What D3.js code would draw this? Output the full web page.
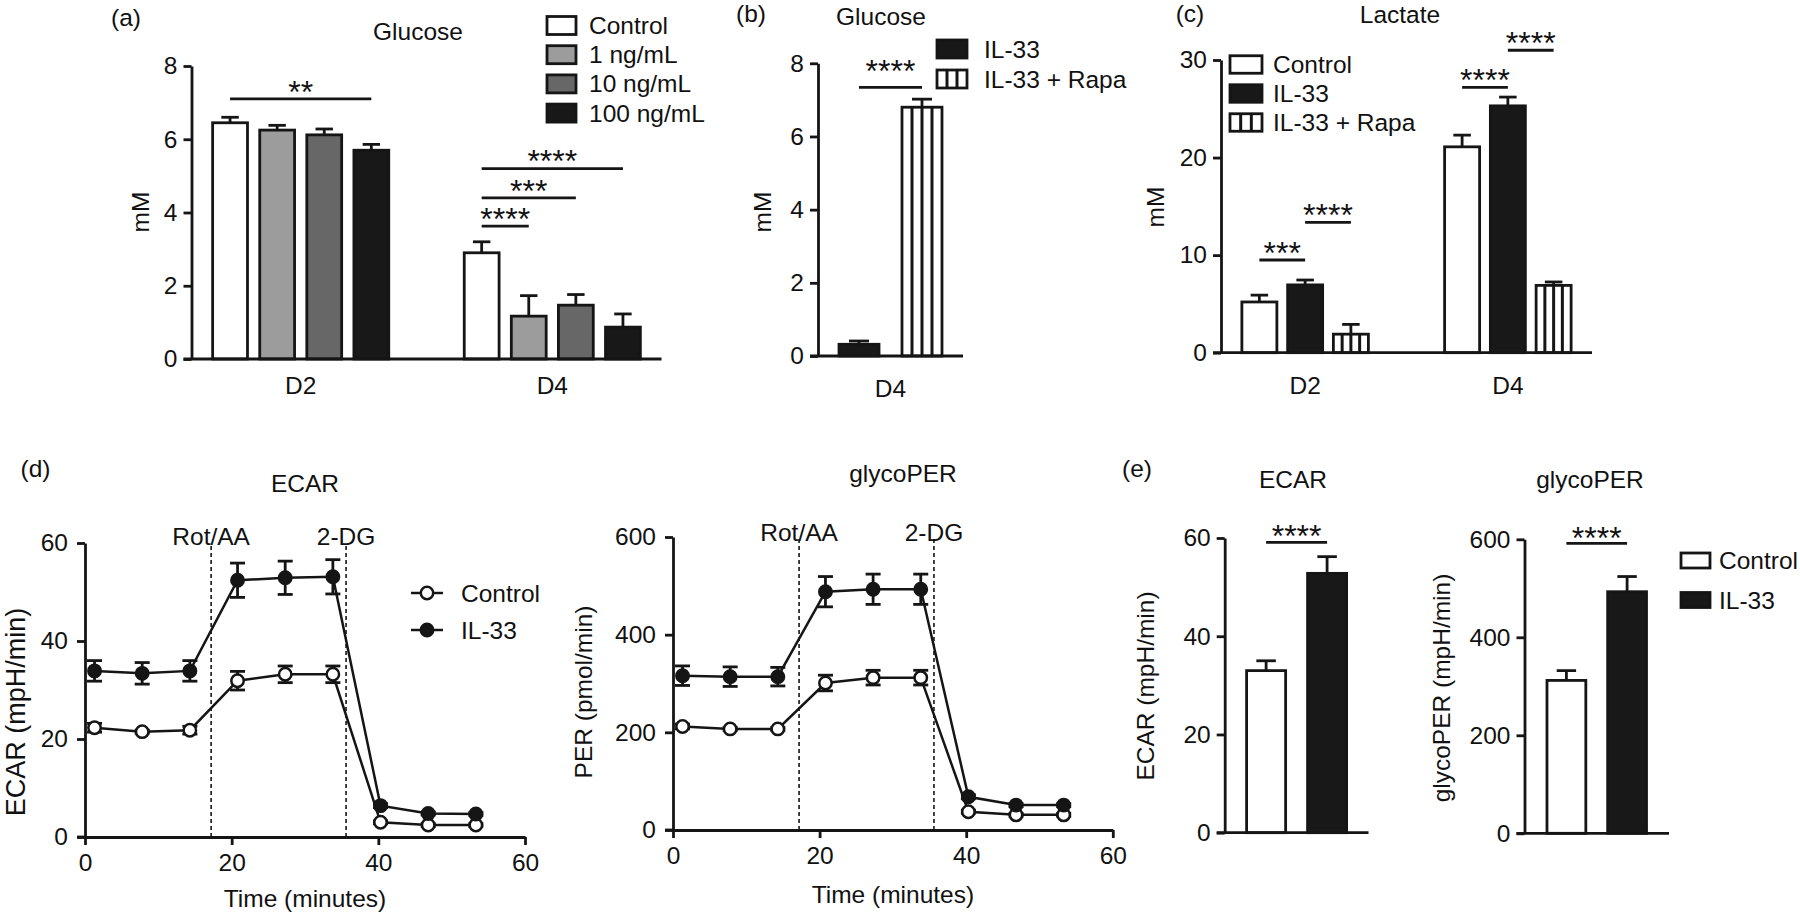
<!DOCTYPE html>
<html><head><meta charset="utf-8">
<script src="https://cdn.jsdelivr.net/npm/d3@7"></script>
<style>
body{margin:0;background:#fff;}
svg{display:block;color:#111;}
svg text{font-family:"Liberation Sans",Arial,Helvetica,sans-serif;fill:#111;}
</style></head><body>
<svg id="fig" width="1800" height="919"></svg>
<script>
// ---------------- data ----------------
const glucoseDays = ["D2", "D4"];
const glucoseGroups = ["Control", "1 ng/mL", "10 ng/mL", "100 ng/mL"];
const glucoseMean = [[6.45, 6.25, 6.12, 5.70], [2.90, 1.17, 1.47, 0.87]];
const glucoseErr  = [[0.15, 0.13, 0.16, 0.16], [0.30, 0.56, 0.29, 0.36]];
const glucoseTicks = [0, 2, 4, 6, 8];
const glucoseSig = [
  {day: 0, from: 0, to: 3, y: 7.10, label: "**"},
  {day: 1, from: 0, to: 1, y: 3.63, label: "****"},
  {day: 1, from: 0, to: 2, y: 4.40, label: "***"},
  {day: 1, from: 0, to: 3, y: 5.20, label: "****"}
];

const rapaDays = ["D4"];
const rapaGroups = ["IL-33", "IL-33 + Rapa"];
const rapaMean = [[0.32, 6.80]];
const rapaErr  = [[0.09, 0.22]];
const rapaTicks = [0, 2, 4, 6, 8];
const rapaSig = [{day: 0, from: 0, to: 1, y: 7.34, label: "****"}];

const lactateDays = ["D2", "D4"];
const lactateGroups = ["Control", "IL-33", "IL-33 + Rapa"];
const lactateMean = [[5.2, 6.95, 1.9], [21.1, 25.3, 6.9]];
const lactateErr  = [[0.7, 0.5, 1.0], [1.2, 0.9, 0.35]];
const lactateTicks = [0, 10, 20, 30];
const lactateSig = [
  {day: 0, from: 0, to: 1, y: 9.5, label: "***"},
  {day: 0, from: 1, to: 2, y: 13.35, label: "****"},
  {day: 1, from: 0, to: 1, y: 27.2, label: "****"},
  {day: 1, from: 1, to: 2, y: 31.0, label: "****"}
];

const seahorseTime = [1.3, 7.8, 14.3, 20.8, 27.3, 33.8, 40.3, 46.8, 53.3];
const injections = [{label: "Rot/AA", t: 17.2}, {label: "2-DG", t: 35.6}];
const ecarControl    = [22.3, 21.5, 21.8, 31.9, 33.2, 33.2, 3.0, 2.45, 2.45];
const ecarControlErr = [0.9, 0.3, 0.8, 1.9, 1.7, 1.7, 0.3, 0.3, 0.3];
const ecarIL33       = [33.9, 33.4, 33.9, 52.4, 52.9, 53.1, 6.4, 4.8, 4.7];
const ecarIL33Err    = [2.1, 2.2, 2.1, 3.5, 3.4, 3.5, 0.4, 0.3, 0.3];
const perControl     = [212, 207, 207, 301, 312, 312, 37.5, 31, 31];
const perControlErr  = [5, 3, 3, 16, 15, 15, 3, 3, 3];
const perIL33        = [316, 314, 314, 488, 493, 493, 68, 51, 51];
const perIL33Err     = [20, 20, 19, 31, 31, 31, 4, 3, 3];
const timeTicks = [0, 20, 40, 60];
const ecarTicks = [0, 20, 40, 60];
const perTicks  = [0, 200, 400, 600];
const lineSeries = ["Control", "IL-33"];

const summaryGroups = ["Control", "IL-33"];
const ecarSummaryMean = [33.0, 52.8];
const ecarSummaryErr  = [2.0, 3.4];
const glycoSummaryMean = [312, 493];
const glycoSummaryErr  = [20, 31];

// ---------------- drawing ----------------
const INK = "#151515";
const SW = 2.8;
const FS = 24.5;
const STAR_FS = 32;
const svg = d3.select("#fig");

function txt(g, x, y, s, o = {}) {
  const t = g.append("text").attr("x", x).attr("y", y).text(s)
    .attr("text-anchor", o.anchor || "middle")
    .style("font-size", (o.size || FS) + "px");
  if (o.dy) t.attr("dy", o.dy);
  if (o.rotate) t.attr("transform", `rotate(-90,${x},${y})`);
  return t;
}

function styleAxis(ax, size) {
  ax.attr("font-size", null).attr("font-family", null);
  ax.selectAll("path,line").attr("stroke", INK).attr("stroke-width", SW);
  ax.selectAll("text").style("font-size", (size || FS) + "px").attr("fill", INK);
}

function box(g, x, y, w, h, fill, nStripe) {
  if (fill === "stripe") {
    g.append("rect").attr("x", x).attr("y", y).attr("width", w).attr("height", h)
      .attr("fill", "#fff").attr("stroke", INK).attr("stroke-width", SW);
    for (let k = 1; k < nStripe; k++) {
      const xx = x + w * k / nStripe;
      g.append("line").attr("x1", xx).attr("x2", xx).attr("y1", y).attr("y2", y + h)
        .attr("stroke", INK).attr("stroke-width", 3);
    }
  } else {
    g.append("rect").attr("x", x).attr("y", y).attr("width", w).attr("height", h)
      .attr("fill", fill).attr("stroke", INK).attr("stroke-width", SW);
  }
}

function barPanel(p) {
  const g = svg.append("g");
  const y = d3.scaleLinear().domain(p.yDomain).range([p.yBottom, p.yTop]);
  const x0 = d3.scaleBand().domain(p.cats).range([p.xLeft, p.xRight])
    .paddingInner(p.pi).paddingOuter(p.po);
  const x1 = d3.scaleBand().domain(d3.range(p.groups.length)).range([0, x0.bandwidth()])
    .paddingInner(p.pi2).paddingOuter(0);
  const bw = x1.bandwidth();
  const cx = (ci, gi) => x0(p.cats[ci]) + x1(gi) + bw / 2;

  p.cats.forEach((c, ci) => {
    p.groups.forEach((gn, gi) => {
      const v = p.mean[ci][gi], e = p.err[ci][gi];
      const bx = x0(c) + x1(gi);
      box(g, bx, y(v), bw, y(0) - y(v), p.fills[gi], 4);
      const xc = bx + bw / 2, cap = bw * 0.5;
      g.append("line").attr("x1", xc).attr("x2", xc).attr("y1", y(v)).attr("y2", y(v + e))
        .attr("stroke", INK).attr("stroke-width", SW);
      g.append("line").attr("x1", xc - cap / 2).attr("x2", xc + cap / 2)
        .attr("y1", y(v + e)).attr("y2", y(v + e)).attr("stroke", INK).attr("stroke-width", SW);
    });
  });

  // axes
  const ay = g.append("g").attr("transform", `translate(${p.xLeft},0)`)
    .call(d3.axisLeft(y).tickValues(p.ticks).tickSize(8).tickSizeOuter(0).tickPadding(p.tickPad || 6));
  styleAxis(ay);
  g.append("line").attr("x1", p.xLeft - 8).attr("x2", p.xRight).attr("y1", y(0)).attr("y2", y(0))
    .attr("stroke", INK).attr("stroke-width", SW);
  if (p.catLabels) {
    const ax = g.append("g").attr("transform", `translate(0,${y(0)})`)
      .call(d3.axisBottom(x0).tickSize(0).tickPadding(p.catPad));
    ax.select(".domain").remove();
    styleAxis(ax);
  }

  // significance
  p.sig.forEach(s => {
    const xa = cx(s.day, s.from), xb = cx(s.day, s.to), yy = y(s.y);
    g.append("line").attr("x1", xa).attr("x2", xb).attr("y1", yy).attr("y2", yy)
      .attr("stroke", INK).attr("stroke-width", SW);
    txt(g, (xa + xb) / 2, yy - p.sigOff, s.label, {size: STAR_FS, dy: "0.57em"});
  });

  // text
  if (p.title) txt(g, p.title.x, p.title.y, p.title.s);
  if (p.letter) txt(g, p.letter.x, p.letter.y, p.letter.s);
  txt(g, p.ylab.x, p.ylab.y, p.ylab.s, {rotate: true, dy: "0.35em", size: p.ylab.size});

  // legend
  if (p.legend) {
    const L = p.legend;
    p.groups.forEach((gn, gi) => {
      const cy = L.y0 + gi * L.dy;
      box(g, L.x, cy - L.h / 2, L.w, L.h, p.fills[gi], 3);
      txt(g, L.tx, cy, gn, {anchor: "start", dy: "0.35em"});
    });
  }
}

function linePanel(p) {
  const g = svg.append("g");
  const x = d3.scaleLinear().domain([0, 60]).range([p.xLeft, p.xRight]);
  const y = d3.scaleLinear().domain(p.yDomain).range([p.yBottom, p.yTop]);
  const R = 6.2;

  injections.forEach(inj => {
    g.append("line").attr("x1", x(inj.t)).attr("x2", x(inj.t))
      .attr("y1", y(p.yDomain[0])).attr("y2", y(p.yDomain[1]))
      .attr("stroke", INK).attr("stroke-width", 1.6).attr("stroke-dasharray", "4,3");
    txt(g, x(inj.t), p.injY, inj.label);
  });

  const ax = g.append("g").attr("transform", `translate(0,${y(0)})`)
    .call(d3.axisBottom(x).tickValues(timeTicks).tickSize(8).tickSizeOuter(0).tickPadding(9));
  styleAxis(ax);
  g.append("line").attr("x1", p.xLeft - 8).attr("x2", p.xLeft).attr("y1", y(0)).attr("y2", y(0))
    .attr("stroke", INK).attr("stroke-width", SW);
  const ay = g.append("g").attr("transform", `translate(${p.xLeft},0)`)
    .call(d3.axisLeft(y).tickValues(p.ticks).tickSize(8).tickSizeOuter(0).tickPadding(9));
  styleAxis(ay);

  const line = d3.line().x((d, i) => x(seahorseTime[i])).y(d => y(d));
  p.series.forEach(s => {
    s.mean.forEach((v, i) => {
      const xx = x(seahorseTime[i]), e = s.err[i];
      g.append("line").attr("x1", xx).attr("x2", xx).attr("y1", y(v - e)).attr("y2", y(v + e))
        .attr("stroke", INK).attr("stroke-width", SW);
      [v - e, v + e].forEach(w => g.append("line").attr("x1", xx - 7.5).attr("x2", xx + 7.5)
        .attr("y1", y(w)).attr("y2", y(w)).attr("stroke", INK).attr("stroke-width", SW));
    });
    g.append("path").datum(s.mean).attr("d", line).attr("fill", "none")
      .attr("stroke", INK).attr("stroke-width", 2.5);
  });
  p.series.forEach(s => {
    g.selectAll(null).data(s.mean).enter().append("circle")
      .attr("cx", (d, i) => x(seahorseTime[i])).attr("cy", d => y(d)).attr("r", R)
      .attr("fill", s.fill).attr("stroke", INK).attr("stroke-width", 2.5);
  });

  txt(g, p.title.x, p.title.y, p.title.s);
  if (p.letter) txt(g, p.letter.x, p.letter.y, p.letter.s);
  txt(g, (p.xLeft + p.xRight) / 2, p.xlabY, "Time (minutes)");
  txt(g, p.ylab.x, p.ylab.y, p.ylab.s, {rotate: true, dy: "0.35em", size: p.ylab.size});

  if (p.legend) {
    const L = p.legend;
    p.series.forEach((s, i) => {
      const cy = L.y0 + i * L.dy;
      g.append("line").attr("x1", L.x - 16).attr("x2", L.x + 16).attr("y1", cy).attr("y2", cy)
        .attr("stroke", INK).attr("stroke-width", 2.5);
      g.append("circle").attr("cx", L.x).attr("cy", cy).attr("r", R)
        .attr("fill", s.fill).attr("stroke", INK).attr("stroke-width", 2.5);
      txt(g, L.tx, cy, lineSeries[i], {anchor: "start", dy: "0.35em"});
    });
  }
}

// (a)
barPanel({
  cats: glucoseDays, groups: glucoseGroups, mean: glucoseMean, err: glucoseErr,
  fills: ["#ffffff", "#9c9c9c", "#676767", "#181818"],
  yDomain: [0, 8], yBottom: 359, yTop: 66, xLeft: 191.5, xRight: 661.5,
  pi: 0.3, po: 0.084, pi2: 0.26, ticks: glucoseTicks, catLabels: true, catPad: 18,
  sig: glucoseSig, sigOff: 14.5,
  title: {x: 418, y: 40, s: "Glucose"}, letter: {x: 126, y: 26, s: "(a)"},
  ylab: {x: 140, y: 212, s: "mM"},
  legend: {x: 547, w: 29, h: 18, y0: 25.5, dy: 29.2, tx: 589}
});
// (b)
barPanel({
  cats: rapaDays, groups: rapaGroups, mean: rapaMean, err: rapaErr,
  fills: ["#181818", "stripe"],
  yDomain: [0, 8], yBottom: 356, yTop: 63.3, xLeft: 818, xRight: 963,
  pi: 0, po: 0.204, pi2: 0.365, ticks: rapaTicks, catLabels: true, catPad: 24,
  sig: rapaSig, sigOff: 24,
  title: {x: 881, y: 25, s: "Glucose"}, letter: {x: 751, y: 22, s: "(b)"},
  ylab: {x: 762, y: 212, s: "mM"},
  legend: {x: 937, w: 30, h: 18, y0: 49, dy: 30, tx: 984}
});
// (c)
barPanel({
  cats: lactateDays, groups: lactateGroups, mean: lactateMean, err: lactateErr,
  fills: ["#ffffff", "#181818", "stripe"],
  yDomain: [0, 30], yBottom: 352.7, yTop: 60, xLeft: 1221, xRight: 1592,
  pi: 0.376, po: 0.103, pi2: 0.235, ticks: lactateTicks, catLabels: true, catPad: 24,
  sig: lactateSig, sigOff: 14.5,
  title: {x: 1400, y: 23, s: "Lactate"}, letter: {x: 1190, y: 22, s: "(c)"},
  ylab: {x: 1155, y: 207, s: "mM"},
  legend: {x: 1230, w: 32, h: 17.5, y0: 64.5, dy: 29, tx: 1273}
});
// (d) ECAR
linePanel({
  xLeft: 85, xRight: 525, yDomain: [0, 60], yBottom: 837, yTop: 543, ticks: ecarTicks,
  injY: 545, xlabY: 907,
  series: [{mean: ecarControl, err: ecarControlErr, fill: "#fff"}, {mean: ecarIL33, err: ecarIL33Err, fill: INK}],
  title: {x: 305, y: 492, s: "ECAR"}, letter: {x: 35.5, y: 477, s: "(d)"},
  ylab: {x: 16, y: 712, s: "ECAR (mpH/min)", size: 27},
  legend: {x: 427, y0: 593, dy: 37, tx: 461}
});
// (d) glycoPER
linePanel({
  xLeft: 673, xRight: 1112.8, yDomain: [0, 600], yBottom: 830, yTop: 537, ticks: perTicks,
  injY: 541, xlabY: 903,
  series: [{mean: perControl, err: perControlErr, fill: "#fff"}, {mean: perIL33, err: perIL33Err, fill: INK}],
  title: {x: 903, y: 482, s: "glycoPER"},
  ylab: {x: 583, y: 692, s: "PER (pmol/min)"}
});
// (e) ECAR
barPanel({
  cats: [""], groups: summaryGroups, mean: [ecarSummaryMean], err: [ecarSummaryErr],
  fills: ["#ffffff", "#181818"],
  yDomain: [0, 60], yBottom: 832.7, yTop: 538, xLeft: 1224.7, xRight: 1368.5,
  pi: 0, po: 0.219, pi2: 0.36, ticks: ecarTicks, catLabels: false,
  sig: [{day: 0, from: 0, to: 1, y: 59.1, label: "****"}], sigOff: 14,
  title: {x: 1293, y: 488, s: "ECAR"}, letter: {x: 1137, y: 477, s: "(e)"},
  ylab: {x: 1145, y: 686, s: "ECAR (mpH/min)"}
});
// (e) glycoPER
barPanel({
  cats: [""], groups: summaryGroups, mean: [glycoSummaryMean], err: [glycoSummaryErr],
  fills: ["#ffffff", "#181818"],
  yDomain: [0, 600], yBottom: 833.3, yTop: 539.3, xLeft: 1524.5, xRight: 1669,
  pi: 0, po: 0.226, pi2: 0.36, ticks: perTicks, catLabels: false,
  sig: [{day: 0, from: 0, to: 1, y: 591.5, label: "****"}], sigOff: 13,
  title: {x: 1590, y: 488, s: "glycoPER"},
  ylab: {x: 1441, y: 688, s: "glycoPER (mpH/min)"},
  legend: {x: 1681, w: 29, h: 15, y0: 560.5, dy: 39.5, tx: 1719}
});
</script>
</body></html>
